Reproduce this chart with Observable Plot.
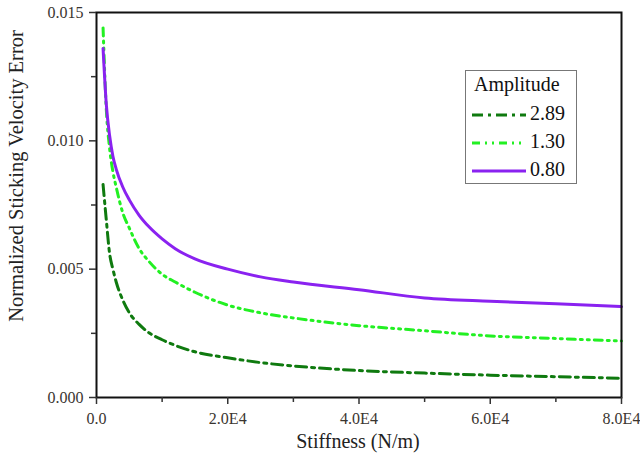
<!DOCTYPE html>
<html>
<head>
<meta charset="utf-8">
<script src="https://cdn.jsdelivr.net/npm/d3@7"></script>
<script src="https://cdn.jsdelivr.net/npm/@observablehq/plot@0.6"></script>
<style>
  html, body { margin: 0; padding: 0; background: #fff; }
  #wrap { position: relative; width: 640px; height: 465px; }
  #legend { position: absolute; left: 465px; top: 70px; width: 112px; height: 114px;
    border: 1px solid #777; box-sizing: border-box; background: #fff;
    font-family: "Liberation Serif", "DejaVu Serif", "Times New Roman", serif; color: #111; }
  #legend .title { position: absolute; left: 8px; top: 2px; font-size: 20px; }
  #legend .row { position: absolute; left: 4px; height: 20px; }
  #legend .row span { position: absolute; left: 60px; top: -3px; font-size: 20px; }
  svg text { font-family: "Liberation Serif", "DejaVu Serif", "Times New Roman", serif; }
</style>
</head>
<body>
<div id="wrap"></div>
<script>
const stiffness = [1000, 1500, 2000, 2500, 3000, 4000, 5000, 6500, 8000, 10000, 12000, 15000, 20000, 25000, 30000, 40000, 50000, 60000, 70000, 80000];
const amp289 = [0.0083, 0.0069, 0.0056, 0.0050, 0.0045, 0.0038, 0.0033, 0.00285, 0.00252, 0.00225, 0.00203, 0.00178, 0.00155, 0.00136, 0.00123, 0.00105, 0.00095, 0.00087, 0.00081, 0.00075];
const amp130 = [0.0144, 0.0112, 0.0097, 0.0088, 0.0082, 0.0072, 0.0066, 0.0058, 0.0053, 0.0048, 0.0045, 0.0041, 0.0036, 0.0033, 0.0031, 0.0028, 0.0026, 0.0024, 0.0023, 0.0022];
const amp080 = [0.0136, 0.0114, 0.0102, 0.0094, 0.0089, 0.0082, 0.0077, 0.0071, 0.00665, 0.00618, 0.0058, 0.0054, 0.0050, 0.0047, 0.0045, 0.0042, 0.00388, 0.00375, 0.00365, 0.00354];

const seriesNames = ["2.89", "1.30", "0.80"];
const seriesValues = [amp289, amp130, amp080];
const seriesColors = ["#0f7a0f", "#22f022", "#8a22f0"];
const seriesDash = ["11,5,3,5", "8,5,2,5,2,5", null];

const xTicks = [0, 20000, 40000, 60000, 80000];
const xTickLabels = ["0.0", "2.0E4", "4.0E4", "6.0E4", "8.0E4"];
const xMinor = [10000, 30000, 50000, 70000];
const yTicks = [0, 0.005, 0.010, 0.015];
const yTickLabels = ["0.000", "0.005", "0.010", "0.015"];
const yMinor = [0.0025, 0.0075, 0.0125];

const xLabel = "Stiffness (N/m)";
const yLabel = "Normalized Sticking Velocity Error";
const legendTitle = "Amplitude";

const serif = "'Liberation Serif', 'DejaVu Serif', 'Times New Roman', serif";

const lines = seriesNames.map((name, i) =>
  Plot.line(stiffness.map((s, j) => ({x: s, y: seriesValues[i][j]})), {
    x: "x", y: "y", stroke: seriesColors[i], strokeWidth: 3,
    strokeDasharray: seriesDash[i] || undefined, curve: "monotone-x"
  })
);

const chart = Plot.plot({
  width: 640, height: 465,
  marginLeft: 96, marginRight: 19, marginTop: 12, marginBottom: 68,
  style: { fontFamily: serif, fontSize: "16px", color: "#333", background: "#fff" },
  x: { domain: [0, 80000], label: null },
  y: { domain: [0, 0.015], label: null },
  marks: [
    ...lines,
    Plot.frame({ stroke: "#111", strokeWidth: 2 }),
    Plot.axisX(xTicks, { tickSize: 7, tickPadding: 8, strokeWidth: 1.5, tickFormat: (d, i) => xTickLabels[i], fontSize: 16, fill: "#3a3530" }),
    Plot.axisX(xMinor, { tickSize: 5, strokeWidth: 1.5, tickFormat: () => "" }),
    Plot.axisY(yTicks, { tickSize: 7, tickPadding: 6, strokeWidth: 1.5, tickFormat: (d, i) => yTickLabels[i], fontSize: 16, fill: "#3a3530" }),
    Plot.axisY(yMinor, { tickSize: 5, strokeWidth: 1.5, tickFormat: () => "" })
  ]
});

const svg = d3.select(chart);
svg.append("text").attr("x", 358).attr("y", 448).attr("text-anchor", "middle")
  .attr("font-size", 20).attr("fill", "#222").style("font-family", serif).text(xLabel);
svg.append("text").attr("transform", "translate(23,176) rotate(-90)").attr("text-anchor", "middle")
  .attr("font-size", 20.5).attr("fill", "#222").style("font-family", serif).text(yLabel);

const wrap = document.getElementById("wrap");
wrap.appendChild(chart);

const legend = document.createElement("div");
legend.id = "legend";
let html = `<div class="title">${legendTitle}</div>`;
seriesNames.forEach((name, i) => {
  const top = 34 + i * 28;
  html += `<div class="row" style="top:${top}px"><svg width="58" height="20" style="position:absolute;left:0;top:0">
    <line x1="2" y1="10" x2="56" y2="10" stroke="${seriesColors[i]}" stroke-width="3" ${seriesDash[i] ? `stroke-dasharray="${seriesDash[i]}"` : ""}/></svg><span>${name}</span></div>`;
});
legend.innerHTML = html;
wrap.appendChild(legend);
</script>
</body>
</html>
